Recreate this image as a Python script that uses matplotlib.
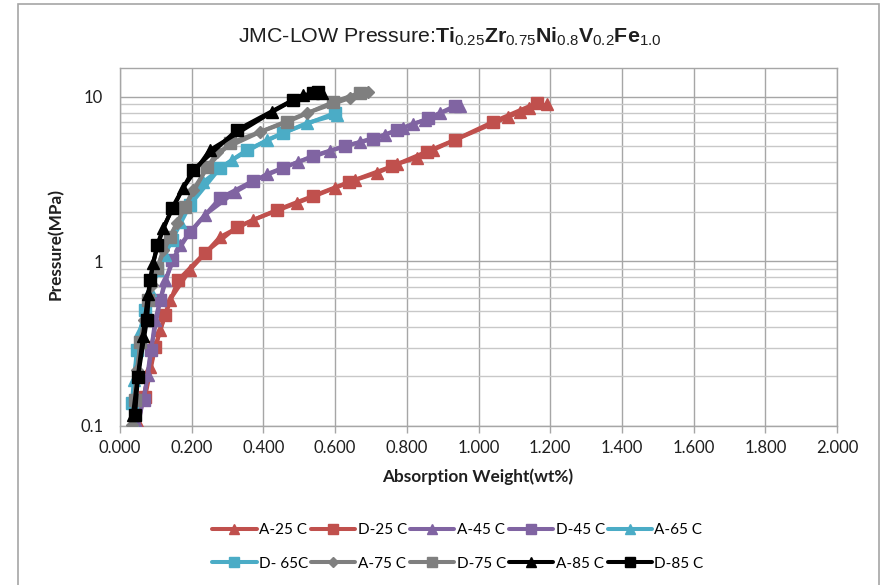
import matplotlib
matplotlib.use("Agg")
import matplotlib.pyplot as plt
from matplotlib.patches import Rectangle
from matplotlib.ticker import FixedLocator, NullFormatter, FixedFormatter

plt.rcParams['mathtext.fontset'] = 'custom'
plt.rcParams['mathtext.rm'] = 'Liberation Sans'
plt.rcParams['mathtext.bf'] = 'Liberation Sans:bold'
plt.rcParams['mathtext.it'] = 'Liberation Sans:italic'

# ---- data ----
a25_x = [0.050, 0.084, 0.112, 0.139, 0.195, 0.279, 0.371, 0.494, 0.600, 0.656, 0.717, 0.773, 0.828, 0.873, 0.934, 1.083, 1.116, 1.140, 1.191]
a25_y = [0.104, 0.228, 0.383, 0.583, 0.887, 1.41, 1.79, 2.27, 2.80, 3.13, 3.45, 3.92, 4.26, 4.76, 5.48, 7.56, 8.1, 8.6, 9.0]
d25_x = [0.070, 0.098, 0.126, 0.162, 0.237, 0.326, 0.438, 0.538, 0.640, 0.760, 0.855, 0.934, 1.040, 1.163]
d25_y = [0.150, 0.302, 0.473, 0.77, 1.13, 1.62, 2.06, 2.50, 3.05, 3.80, 4.65, 5.48, 7.05, 9.2]

a45_x = [0.050, 0.078, 0.098, 0.126, 0.167, 0.237, 0.321, 0.410, 0.497, 0.586, 0.669, 0.739, 0.790, 0.817, 0.851, 0.893, 0.948]
a45_y = [0.100, 0.204, 0.44, 0.77, 1.26, 1.92, 2.64, 3.40, 4.03, 4.70, 5.33, 5.88, 6.5, 6.85, 7.25, 8.0, 8.8]
d45_x = [0.067, 0.086, 0.112, 0.145, 0.195, 0.279, 0.371, 0.455, 0.538, 0.628, 0.706, 0.773, 0.860, 0.934]
d45_y = [0.144, 0.29, 0.58, 1.02, 1.51, 2.43, 3.09, 3.70, 4.38, 5.04, 5.56, 6.30, 7.40, 8.82]

a65_x = [0.036, 0.039, 0.056, 0.084, 0.126, 0.167, 0.232, 0.312, 0.410, 0.522, 0.605]
a65_y = [0.104, 0.19, 0.38, 0.67, 1.10, 1.74, 3.04, 4.14, 5.48, 6.95, 7.8]
d65_x = [0.033, 0.047, 0.070, 0.103, 0.145, 0.195, 0.279, 0.354, 0.455, 0.600]
d65_y = [0.138, 0.29, 0.51, 0.887, 1.35, 2.20, 3.70, 4.76, 6.04, 8.0]

a75_x = [0.033, 0.047, 0.067, 0.089, 0.120, 0.159, 0.204, 0.271, 0.391, 0.522, 0.642, 0.692]
a75_y = [0.101, 0.219, 0.44, 0.72, 1.17, 1.71, 2.72, 4.63, 6.13, 8.0, 9.87, 10.7]
d75_x = [0.042, 0.056, 0.078, 0.103, 0.139, 0.181, 0.243, 0.307, 0.466, 0.594, 0.669]
d75_y = [0.144, 0.322, 0.58, 0.91, 1.41, 2.14, 3.75, 5.25, 7.05, 9.3, 10.6]

a85_x = [0.036, 0.064, 0.078, 0.092, 0.120, 0.176, 0.251, 0.424, 0.510, 0.563]
a85_y = [0.117, 0.35, 0.63, 0.98, 1.60, 2.80, 4.76, 8.1, 10.3, 10.5]
d85_x = [0.042, 0.050, 0.075, 0.084, 0.103, 0.145, 0.204, 0.326, 0.483, 0.538, 0.552]
d85_y = [0.117, 0.199, 0.44, 0.77, 1.26, 2.11, 3.60, 6.30, 9.6, 10.6, 10.7]

series_labels = ["A-25 C", "D-25 C", "A-45 C", "D-45 C", "A-65 C",
                 "D- 65C", "A-75 C", "D-75 C", "A-85 C", "D-85 C"]
x_ticks = [0.0, 0.2, 0.4, 0.6, 0.8, 1.0, 1.2, 1.4, 1.6, 1.8, 2.0]
x_tick_labels = ["0.000", "0.200", "0.400", "0.600", "0.800", "1.000",
                 "1.200", "1.400", "1.600", "1.800", "2.000"]
y_ticks = [0.1, 1, 10]
y_tick_labels = ["0.1", "1", "10"]

# ---- styling ----
series = [
    (a25_x, a25_y, "#C0504D", "^"),
    (d25_x, d25_y, "#C0504D", "s"),
    (a45_x, a45_y, "#8064A2", "^"),
    (d45_x, d45_y, "#8064A2", "s"),
    (a65_x, a65_y, "#4BACC6", "^"),
    (d65_x, d65_y, "#4BACC6", "s"),
    (a75_x, a75_y, "#7F7F7F", "D"),
    (d75_x, d75_y, "#7F7F7F", "s"),
    (a85_x, a85_y, "#000000", "^"),
    (d85_x, d85_y, "#000000", "s"),
]

W, H = 881, 585
fig = plt.figure(figsize=(W / 100, H / 100), dpi=100)
fig.patch.set_facecolor("white")

# outer chart border
fig.add_artist(Rectangle((18 / W, -0.02), (879 - 18) / W, 1.02 - 4 / H,
                         transform=fig.transFigure, facecolor="none",
                         edgecolor="#A6A6A6", linewidth=1.2))

ax = fig.add_axes([120 / W, 1 - 426 / H, 717 / W, 358 / H])
ax.set_facecolor("white")

handles = []
for (xs, ys, col, mk), lab in zip(series, series_labels):
    ms = 6.5 if mk == "D" else 8
    ln, = ax.plot(xs, ys, color=col, linewidth=2.9, marker=mk, markersize=ms,
                  markerfacecolor=col, markeredgecolor=col, label=lab,
                  solid_capstyle="round", zorder=3)
    handles.append(ln)

ax.set_yscale("log")
ax.set_xlim(0, 2.0)
ax.set_ylim(0.1, 15)

ax.xaxis.set_major_locator(FixedLocator(x_ticks))
ax.xaxis.set_major_formatter(FixedFormatter(x_tick_labels))
ax.yaxis.set_major_locator(FixedLocator(y_ticks))
ax.yaxis.set_major_formatter(FixedFormatter(y_tick_labels))
minor_y = [m * d for d in (0.1, 1) for m in range(2, 10)]
ax.yaxis.set_minor_locator(FixedLocator(minor_y))
ax.yaxis.set_minor_formatter(NullFormatter())

ax.grid(True, which="major", axis="x", color="#A6A6A6", linewidth=1.0, zorder=0)
ax.grid(True, which="major", axis="y", color="#A6A6A6", linewidth=1.0, zorder=0)
ax.grid(True, which="minor", axis="y", color="#C8C8C8", linewidth=1.0, zorder=0)
ax.set_axisbelow(True)

for s in ax.spines.values():
    s.set_color("#A6A6A6")
    s.set_linewidth(1.0)

ax.tick_params(axis="x", which="major", direction="out", length=5, width=1,
               color="#A6A6A6", pad=5, labelsize=12)
ax.tick_params(axis="y", which="both", length=0, pad=12, labelsize=12)
for lbl in ax.get_xticklabels() + ax.get_yticklabels():
    lbl.set_family("Lato")
    lbl.set_color("#1F1F1F")

fig.text(478 / W, 1 - 477 / H, "Absorption Weight(wt%)", fontsize=12.4,
         fontweight="bold", family="Lato", color="#1F1F1F",
         ha="center", va="center")
fig.text(56 / W, 1 - 244 / H, "Pressure(MPa)", fontsize=12.4,
         fontweight="bold", family="Lato", color="#1F1F1F",
         ha="center", va="center", rotation=90)

fig.text(450 / W, 1 - 37 / H,
         r"JMC-LOW Pressure:$\mathbf{Ti}_{0.25}\mathbf{Zr}_{0.75}\mathbf{Ni}_{0.8}\mathbf{V}_{0.2}\mathbf{Fe}_{1.0}$",
         ha="center", va="center", fontsize=15.4, family="Liberation Sans",
         color="#1F1F1F")

order = [0, 5, 1, 6, 2, 7, 3, 8, 4, 9]
leg = fig.legend(handles=[handles[i] for i in order],
                 labels=[series_labels[i] for i in order], ncol=5,
                 loc="center", bbox_to_anchor=(458 / W, 1 - 547 / H),
                 frameon=False, prop=dict(family="Lato", size=11),
                 handlelength=2.9, handletextpad=0.15, columnspacing=0.2,
                 labelspacing=1.25, markerscale=0.85)

fig.savefig("out.png", dpi=100, facecolor=fig.get_facecolor())
